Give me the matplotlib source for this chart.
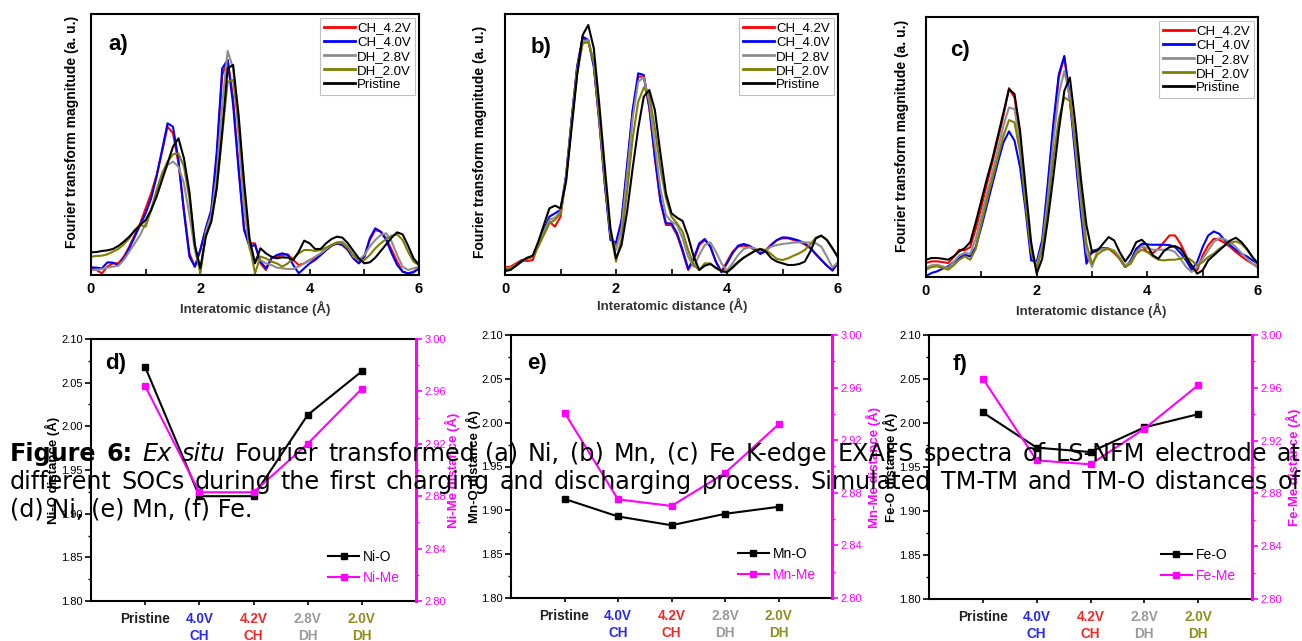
import numpy as np
import matplotlib
matplotlib.use('Agg')
import matplotlib.pyplot as plt
from matplotlib.ticker import MultipleLocator, FormatStrFormatter

plt.rcParams['font.family'] = ['Liberation Sans', 'DejaVu Sans']

# ---------------- data ----------------
r_grid = np.round(np.arange(0, 6.001, 0.1), 1)  # interatomic distance (A)

series_names = ['CH_4.2V', 'CH_4.0V', 'DH_2.8V', 'DH_2.0V', 'Pristine']
series_colors = ['#ff0000', '#0000ff', '#8e8e8e', '#808000', '#000000']

# (a) Ni K-edge
a_ch42 = [0.20, 0.15, 0.05, 0.25, 0.35, 0.35, 0.55, 0.85, 1.20, 1.55, 2.00, 2.45, 3.00, 3.70, 4.45, 4.25,
          3.35, 1.95, 0.65, 0.25, 0.75, 1.40, 1.90, 3.50, 6.00, 6.45, 5.30, 3.25, 1.40, 0.95, 0.95, 0.35,
          0.15, 0.50, 0.55, 0.60, 0.62, 0.45, 0.30, 0.35, 0.45, 0.48, 0.60, 0.75, 0.88, 0.95, 0.90, 0.75,
          0.50, 0.35, 0.55, 1.05, 1.35, 1.30, 1.10, 0.75, 0.40, 0.10, 0.05, 0.10, 0.20]
a_ch40 = [0.23, 0.22, 0.20, 0.38, 0.37, 0.30, 0.50, 0.80, 1.15, 1.50, 1.85, 2.30, 2.95, 3.75, 4.55, 4.45,
          3.45, 1.90, 0.55, 0.25, 0.75, 1.40, 1.95, 3.70, 6.20, 6.45, 5.10, 3.15, 1.35, 0.85, 0.90, 0.40,
          0.20, 0.50, 0.60, 0.65, 0.60, 0.30, 0.05, 0.20, 0.35, 0.45, 0.60, 0.75, 0.88, 0.95, 0.90, 0.75,
          0.50, 0.35, 0.55, 1.10, 1.40, 1.30, 1.05, 0.65, 0.30, 0.10, 0.05, 0.08, 0.20]
a_dh28 = [0.15, 0.15, 0.18, 0.22, 0.25, 0.28, 0.45, 0.70, 0.95, 1.20, 1.55, 1.95, 2.45, 2.95, 3.30, 3.40,
          3.25, 2.75, 1.80, 0.75, 0.10, 1.30, 1.80, 3.00, 5.10, 6.72, 6.20, 4.20, 2.00, 0.80, 0.45, 0.45,
          0.35, 0.30, 0.22, 0.20, 0.18, 0.18, 0.25, 0.35, 0.45, 0.55, 0.65, 0.78, 0.90, 0.98, 1.00, 0.85,
          0.55, 0.45, 0.60, 0.85, 1.05, 1.20, 1.25, 1.00, 0.60, 0.25, 0.15, 0.20, 0.25]
a_dh20 = [0.55, 0.57, 0.58, 0.62, 0.70, 0.78, 0.92, 1.10, 1.35, 1.50, 1.45, 1.95, 2.55, 3.05, 3.40, 3.62,
          3.65, 3.25, 2.30, 0.90, 0.05, 1.20, 1.60, 2.60, 4.20, 5.80, 5.85, 4.60, 2.60, 0.90, 0.05, 0.55,
          0.50, 0.40, 0.35, 0.25, 0.35, 0.50, 0.65, 0.75, 0.75, 0.72, 0.75, 0.82, 0.90, 0.97, 0.95, 0.80,
          0.60, 0.45, 0.45, 0.60, 0.80, 0.95, 1.08, 1.18, 1.22, 1.05, 0.70, 0.40, 0.30]
a_pristine = [0.68, 0.69, 0.72, 0.74, 0.78, 0.87, 1.00, 1.15, 1.33, 1.50, 1.65, 1.95, 2.35, 2.85, 3.35, 3.85,
              4.10, 3.50, 2.50, 0.90, 0.20, 1.15, 1.60, 2.60, 4.30, 6.20, 6.30, 4.80, 2.80, 1.10, 0.35, 0.80,
              0.65, 0.55, 0.50, 0.53, 0.52, 0.45, 0.70, 1.03, 0.95, 0.78, 0.78, 0.95, 1.08, 1.15, 1.12, 0.95,
              0.72, 0.50, 0.35, 0.38, 0.52, 0.72, 0.92, 1.12, 1.28, 1.22, 0.88, 0.50, 0.30]

# (b) Mn K-edge
b_ch42 = [0.23, 0.25, 0.35, 0.45, 0.42, 0.45, 0.90, 1.30, 1.60, 1.45, 1.75, 2.95, 4.65, 6.25, 7.10, 7.05,
          6.30, 4.55, 2.70, 1.15, 0.90, 1.60, 3.20, 4.90, 5.95, 5.95, 5.00, 3.50, 2.20, 1.50, 1.50, 1.20,
          0.70, 0.15, 0.45, 0.90, 1.05, 0.85, 0.40, 0.10, 0.40, 0.70, 0.85, 0.88, 0.85, 0.75, 0.65, 0.75,
          0.92, 1.05, 1.10, 1.10, 1.05, 1.00, 0.92, 0.80, 0.62, 0.45, 0.28, 0.15, 0.35]
b_ch40 = [0.15, 0.18, 0.28, 0.40, 0.50, 0.55, 0.95, 1.35, 1.75, 1.85, 1.95, 2.98, 4.67, 6.25, 7.15, 7.05,
          6.25, 4.60, 2.70, 1.05, 0.97, 1.65, 3.30, 4.95, 6.05, 6.00, 5.05, 3.55, 2.25, 1.55, 1.55, 1.25,
          0.75, 0.18, 0.50, 0.95, 1.08, 0.85, 0.40, 0.08, 0.35, 0.65, 0.88, 0.93, 0.88, 0.78, 0.63, 0.72,
          0.90, 1.05, 1.13, 1.12, 1.08, 1.03, 0.95, 0.82, 0.63, 0.45, 0.28, 0.13, 0.38]
b_dh28 = [0.20, 0.22, 0.30, 0.42, 0.50, 0.55, 0.90, 1.30, 1.65, 1.72, 1.90, 2.90, 4.55, 6.15, 7.00, 7.05,
          6.40, 4.70, 2.85, 1.25, 0.75, 1.40, 3.00, 4.70, 5.80, 5.93, 5.20, 3.90, 2.60, 1.80, 1.60, 1.50,
          1.10, 0.55, 0.25, 0.60, 0.90, 0.98, 0.70, 0.35, 0.13, 0.35, 0.60, 0.78, 0.83, 0.80, 0.72, 0.75,
          0.85, 0.90, 0.93, 0.95, 0.97, 0.98, 0.98, 0.97, 0.95, 0.85, 0.55, 0.23, 0.38]
b_dh20 = [0.18, 0.20, 0.30, 0.42, 0.50, 0.55, 0.85, 1.20, 1.55, 1.65, 1.85, 2.85, 4.50, 6.05, 6.95, 6.98,
          6.40, 4.80, 2.95, 1.30, 0.40, 1.10, 2.50, 4.10, 5.20, 5.62, 5.40, 4.40, 3.20, 2.30, 1.75, 1.55,
          1.30, 0.75, 0.30, 0.15, 0.35, 0.35, 0.20, 0.12, 0.10, 0.25, 0.40, 0.52, 0.62, 0.72, 0.78, 0.75,
          0.62, 0.48, 0.45, 0.50, 0.58, 0.65, 0.75, 0.92, 1.12, 1.18, 1.05, 0.80, 0.53]
b_pristine = [0.12, 0.15, 0.28, 0.42, 0.52, 0.58, 1.00, 1.50, 2.00, 2.08, 2.00, 2.80, 4.40, 6.00, 7.20, 7.50,
              6.80, 5.10, 3.20, 1.40, 0.50, 0.90, 1.90, 3.20, 4.40, 5.35, 5.55, 4.95, 3.65, 2.45, 1.85, 1.72,
              1.62, 1.15, 0.55, 0.15, 0.28, 0.33, 0.22, 0.12, 0.08, 0.22, 0.38, 0.52, 0.62, 0.72, 0.78, 0.70,
              0.50, 0.40, 0.35, 0.30, 0.30, 0.33, 0.40, 0.70, 1.10, 1.18, 1.05, 0.80, 0.53]

# (c) Fe K-edge
c_ch42 = [0.42, 0.47, 0.47, 0.45, 0.42, 0.60, 0.82, 0.80, 0.90, 1.45, 2.10, 2.80, 3.45, 4.15, 4.85, 5.68,
          5.40, 4.20, 2.40, 0.75, 0.25, 1.00, 2.60, 4.45, 6.00, 6.62, 5.45, 3.75, 2.05, 0.55, 0.72, 0.80,
          0.87, 0.85, 0.72, 0.55, 0.30, 0.45, 0.80, 0.95, 0.75, 0.72, 0.85, 1.05, 1.25, 1.25, 1.00, 0.65,
          0.25, 0.20, 0.65, 0.95, 1.15, 1.12, 1.02, 0.90, 0.75, 0.62, 0.50, 0.40, 0.30]
c_ch40 = [0.03, 0.12, 0.17, 0.25, 0.32, 0.45, 0.57, 0.67, 0.62, 0.90, 1.50, 2.15, 2.80, 3.45, 4.05, 4.38,
          4.10, 3.30, 2.00, 0.50, 0.45, 1.12, 2.80, 4.60, 6.10, 6.65, 5.30, 3.60, 1.90, 0.40, 0.78, 0.83,
          0.87, 0.85, 0.77, 0.55, 0.30, 0.50, 0.85, 1.00, 0.98, 0.97, 0.97, 0.97, 0.96, 0.90, 0.72, 0.50,
          0.22, 0.45, 0.90, 1.25, 1.37, 1.30, 1.10, 0.95, 0.82, 0.70, 0.62, 0.50, 0.40]
c_dh28 = [0.27, 0.35, 0.37, 0.32, 0.27, 0.45, 0.65, 0.72, 0.70, 1.15, 1.85, 2.50, 3.15, 3.85, 4.55, 5.10,
          5.05, 4.00, 2.35, 0.80, 0.35, 0.95, 2.35, 4.05, 5.50, 6.20, 5.40, 3.90, 2.25, 0.75, 0.30, 0.80,
          0.85, 0.85, 0.80, 0.60, 0.35, 0.45, 0.75, 0.92, 0.87, 0.82, 0.82, 0.82, 0.82, 0.75, 0.55, 0.30,
          0.15, 0.30, 0.55, 0.80, 1.05, 1.17, 1.13, 1.05, 0.90, 0.72, 0.55, 0.40, 0.27]
c_dh20 = [0.22, 0.30, 0.32, 0.28, 0.22, 0.35, 0.52, 0.62, 0.52, 0.85, 1.60, 2.30, 2.95, 3.60, 4.25, 4.72,
          4.65, 3.75, 2.20, 0.75, 0.25, 0.85, 2.05, 3.55, 4.75, 5.40, 5.30, 4.10, 2.55, 1.00, 0.40, 0.68,
          0.80, 0.85, 0.75, 0.55, 0.30, 0.40, 0.70, 0.82, 0.75, 0.62, 0.52, 0.50, 0.52, 0.52, 0.55, 0.60,
          0.50, 0.35, 0.45, 0.60, 0.70, 0.85, 0.95, 1.03, 1.07, 1.00, 0.82, 0.60, 0.37]
c_pristine = [0.52, 0.57, 0.57, 0.55, 0.52, 0.62, 0.77, 0.87, 1.05, 1.65, 2.30, 2.95, 3.55, 4.25, 4.95, 5.65,
              5.50, 4.40, 2.70, 1.05, 0.10, 0.55, 1.70, 3.00, 4.40, 5.60, 6.00, 4.60, 2.95, 1.55, 0.75, 0.80,
              1.00, 1.20, 1.10, 0.75, 0.47, 0.70, 1.05, 1.12, 0.95, 0.65, 0.55, 0.78, 0.90, 0.93, 0.85, 0.60,
              0.35, 0.10, 0.20, 0.50, 0.65, 0.80, 0.95, 1.10, 1.18, 1.05, 0.85, 0.60, 0.40]

# (d)-(f) simulated distances
soc_labels = ['Pristine', '4.0V\nCH', '4.2V\nCH', '2.8V\nDH', '2.0V\nDH']
soc_colors = ['#222222', '#2a2aee', '#ee2a2a', '#9a9a9a', '#8f8f1f']
ni_o = [2.068, 1.920, 1.920, 2.013, 2.063]
ni_me = [2.964, 2.883, 2.883, 2.920, 2.962]
mn_o = [1.913, 1.893, 1.883, 1.896, 1.904]
mn_me = [2.941, 2.875, 2.870, 2.895, 2.932]
fe_o = [2.012, 1.972, 1.967, 1.995, 2.010]
fe_me = [2.967, 2.905, 2.902, 2.929, 2.962]

caption_line1 = ([("Figure", 'bold'), ("6:", 'bold'), ("Ex", 'italic'), ("situ", 'italic')] +
                 [(w, 'normal') for w in
                  "Fourier transformed (a) Ni, (b) Mn, (c) Fe K-edge EXAFS spectra of LS-NFM electrode at".split()])
caption_line2 = [(w, 'normal') for w in
                 "different SOCs during the first charging and discharging process. Simulated TM-TM and TM-O distances of".split()]
caption_line3 = "(d) Ni, (e) Mn, (f) Fe."

# ---------------- figure ----------------
W, H = 1302, 641
fig = plt.figure(figsize=(W / 100, H / 100), dpi=100)
fig.patch.set_facecolor('white')
MAG = '#ff00ff'


def rect(l, t, r, b):
    return [l / W, 1 - b / H, (r - l) / W, (b - t) / H]


def ftext(x, y, s, **kw):
    return fig.text(x / W, 1 - y / H, s, **kw)


def spectrum_panel(box, curves, ymax, tag, tag_xy, ylab_xy, xlab_xy):
    ax = fig.add_axes(rect(*box))
    for name, col, y in zip(series_names, series_colors, curves):
        ax.plot(r_grid, y, color=col, lw=1.5, label=name)
    ax.set_xlim(0, 6)
    ax.set_ylim(0, ymax)
    ax.set_xticks([0, 2, 4, 6])
    ax.set_xticks([1, 3, 5], minor=True)
    ax.set_yticks([])
    ax.tick_params(axis='x', which='both', direction='in', length=4, width=1.2,
                   pad=5, labelsize=10.5)
    for lab in ax.get_xticklabels():
        lab.set_fontweight('bold')
    for s in ax.spines.values():
        s.set_linewidth(1.5)
    leg = ax.legend(loc='upper right', fontsize=9.5, handlelength=2.3, handletextpad=0.2,
                    borderpad=0.3, labelspacing=0.15, borderaxespad=0.3, fancybox=False,
                    framealpha=1, edgecolor='#c0c0c0')
    leg.get_frame().set_linewidth(0.8)
    for ln in leg.get_lines():
        ln.set_linewidth(2)
    ftext(tag_xy[0], tag_xy[1], tag, fontsize=16, fontweight='bold', ha='left', va='baseline')
    ftext(ylab_xy[0], ylab_xy[1], 'Fourier transform magnitude (a. u.)', rotation=90,
          fontsize=10, fontweight='bold', ha='center', va='center')
    ftext(xlab_xy[0], xlab_xy[1], 'Interatomic distance (Å)', fontsize=9.5,
          fontweight='bold', color='#333333', ha='center', va='center')
    return ax


def distance_panel(box, o_vals, me_vals, elem, tag, tag_xy, lylab_x, rylab_x, ylab_y):
    ax = fig.add_axes(rect(*box))
    ax2 = ax.twinx()
    xs = np.arange(1, len(soc_labels) + 1)
    h1, = ax.plot(xs, o_vals, '-s', color='black', lw=1.5, ms=5, label=f'{elem}-O')
    h2, = ax2.plot(xs, me_vals, '-s', color=MAG, lw=1.5, ms=5, label=f'{elem}-Me')
    ax.set_xlim(0, 6)
    ax.set_ylim(1.80, 2.10)
    ax2.set_ylim(2.80, 3.00)
    ax.yaxis.set_major_locator(MultipleLocator(0.05))
    ax.yaxis.set_minor_locator(MultipleLocator(0.025))
    ax.yaxis.set_major_formatter(FormatStrFormatter('%.2f'))
    ax2.yaxis.set_major_locator(MultipleLocator(0.04))
    ax2.yaxis.set_minor_locator(MultipleLocator(0.02))
    ax2.yaxis.set_major_formatter(FormatStrFormatter('%.2f'))
    ax.set_xticks(xs)
    ax.set_xticklabels(soc_labels, fontsize=9.8, fontweight='bold', linespacing=1.3)
    for lab, c in zip(ax.get_xticklabels(), soc_colors):
        lab.set_color(c)
    ax.tick_params(axis='x', direction='out', length=3, width=1.2, pad=5)
    ax.tick_params(axis='y', which='major', direction='out', length=4, width=1.2,
                   labelsize=8, pad=2)
    ax.tick_params(axis='y', which='minor', direction='out', length=2, width=1.0)
    ax2.tick_params(axis='y', which='major', direction='out', length=4, width=1.2,
                    labelsize=8, pad=2, color=MAG, labelcolor=MAG)
    ax2.tick_params(axis='y', which='minor', direction='out', length=2, width=1.0, color=MAG)
    for s in ['left', 'top', 'bottom']:
        ax.spines[s].set_linewidth(1.5)
        ax2.spines[s].set_visible(False)
    ax.spines['right'].set_visible(False)
    ax2.spines['right'].set_color(MAG)
    ax2.spines['right'].set_linewidth(2.2)
    ax2.legend(handles=[h1, h2], loc='lower right', frameon=False, fontsize=10,
               handlelength=2.2, handletextpad=0.3, labelspacing=0.5, borderaxespad=0.75,
               labelcolor=['black', MAG])
    ftext(tag_xy[0], tag_xy[1], tag, fontsize=16, fontweight='bold', ha='left', va='baseline')
    ftext(lylab_x, ylab_y, f'{elem}-O distance (Å)', rotation=90, fontsize=9.5,
          fontweight='bold', ha='center', va='center')
    ftext(rylab_x, ylab_y, f'{elem}-Me distance (Å)', rotation=90, fontsize=9.5,
          fontweight='bold', color=MAG, ha='center', va='center')
    return ax


spectrum_panel((91, 14, 419, 275), [a_ch42, a_ch40, a_dh28, a_dh20, a_pristine], 7.83,
               'a)', (108, 50), (72, 132), (255, 308))
spectrum_panel((505, 14, 838, 275), [b_ch42, b_ch40, b_dh28, b_dh20, b_pristine], 7.83,
               'b)', (531, 53), (480, 142), (672, 305))
spectrum_panel((926, 17, 1258, 277), [c_ch42, c_ch40, c_dh28, c_dh20, c_pristine], 7.82,
               'c)', (950, 56), (902, 136), (1091, 310))

distance_panel((91, 339, 416, 601), ni_o, ni_me, 'Ni', 'd)', (105, 369), 52, 452, 470)
distance_panel((511, 335, 832, 598), mn_o, mn_me, 'Mn', 'e)', (527, 369), 473, 873, 467)
distance_panel((929, 335, 1252, 599), fe_o, fe_me, 'Fe', 'f)', (953, 370), 890, 1293, 467)

# caption overlay (justified lines, running past the right edge like the reference)
renderer = fig.canvas.get_renderer()
CAP_FS = 17.2
CAP_X0, CAP_X1 = 10.0, 1301.0


def justified_line(words, yb):
    arts, widths = [], []
    for s, style in words:
        kw = {'fontweight': 'bold'} if style == 'bold' else (
            {'style': 'italic'} if style == 'italic' else {})
        t = fig.text(0, 1 - yb / H, s, fontsize=CAP_FS, family='DejaVu Sans',
                     ha='left', va='baseline', zorder=10, **kw)
        arts.append(t)
        widths.append(t.get_window_extent(renderer=renderer).width)
    gap = (CAP_X1 - CAP_X0 - sum(widths)) / (len(words) - 1)
    x = CAP_X0
    for t, w in zip(arts, widths):
        t.set_x(x / W)
        x += w + gap


justified_line(caption_line1, 461)
justified_line(caption_line2, 489)
fig.text(CAP_X0 / W, 1 - 517 / H, caption_line3, fontsize=CAP_FS, family='DejaVu Sans',
         ha='left', va='baseline', zorder=10)

fig.savefig('out.png', dpi=100, facecolor='white')
